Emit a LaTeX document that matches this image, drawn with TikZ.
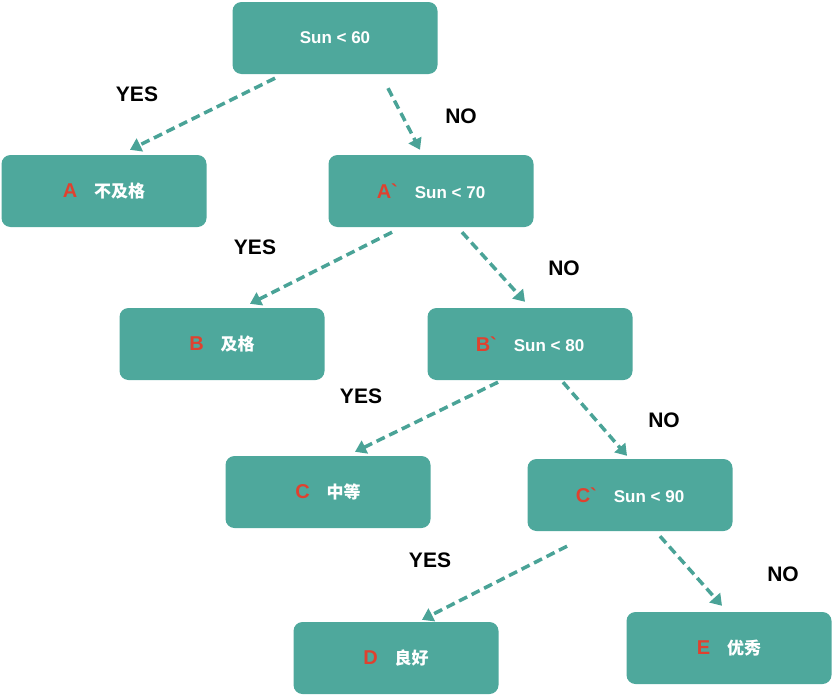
\documentclass[tikz,border=0pt]{standalone}
\usepackage{fontspec}
\setmainfont{Liberation Sans}
\newfontfamily\cjk{Noto Sans CJK SC}
\usetikzlibrary{calc, arrows.meta}
\definecolor{boxteal}{HTML}{4EA89C}
\definecolor{lineteal}{HTML}{4AA397}
\definecolor{lettred}{HTML}{E0412F}
\newcommand{\lett}[1]{\textcolor{lettred}{\fontsize{20}{22}\selectfont #1}}
\newcommand{\tick}{\textasciigrave}

\begin{document}
\begin{tikzpicture}[x=1pt, y=-1pt,
    box/.style=
    {fill=boxteal, rounded corners=9pt, minimum width=205pt, minimum height=72pt,
     text=white, font=\bfseries\fontsize{17}{20}\selectfont},
    branch/.style=
    {draw=lineteal, line width=3.5pt, dash pattern=on 9pt off 5pt,
     -{Triangle[length=11pt,width=14pt]}},
    answer/.style=
    {font=\bfseries\fontsize{21}{24}\selectfont}]
    \useasboundingbox (0,0) rectangle (833,696);
    \node (root) [box] at (335,38) {Sun < 60};
    \node (a) [box] at (104,191) {\lett{A}\quad{\cjk\bfseries 不及格}};
    \node (a2) [box] at (431,191) {\lett{A\tick}\quad Sun < 70};
    \node (b) [box] at (222,344) {\lett{B}\quad{\cjk\bfseries 及格}};
    \node (b2) [box] at (530,344) {\lett{B\tick}\quad Sun < 80};
    \node (c) [box] at (328,492) {\lett{C}\quad{\cjk\bfseries 中等}};
    \node (c2) [box] at (630,495) {\lett{C\tick}\quad Sun < 90};
    \node (d) [box] at (396,658) {\lett{D}\quad{\cjk\bfseries 良好}};
    \node (e) [box] at (729,648) {\lett{E}\quad{\cjk\bfseries 优秀}};
    % yes / no branches
    \draw[branch] ($(root.south)+(-60,4)$) -- ($(a.north)+(26,-5)$);
    \draw[branch] ($(root.south)+(53,14)$) -- ($(a2.north)+(-11,-5)$);
    \draw[branch] ($(a2.south)+(-39,5)$) -- ($(b.north)+(28,-4)$);
    \draw[branch] ($(a2.south)+(31,5)$) -- ($(b2.north)+(-5,-6)$);
    \draw[branch] ($(b2.south)+(-32,2)$) -- ($(c.north)+(27,-4)$);
    \draw[branch] ($(b2.south)+(33,2)$) -- ($(c2.north)+(-3,-3)$);
    \draw[branch] ($(c2.south)+(-63,15)$) -- ($(d.north)+(26,-2)$);
    \draw[branch] ($(c2.south)+(30,5)$) -- ($(e.north)+(-7,-6)$);
    \node (y1) [answer] at (137,94) {YES};
    \node (n1) [answer] at (461,116) {NO};
    \node (y2) [answer] at (255,247) {YES};
    \node (n2) [answer] at (564,268) {NO};
    \node (y3) [answer] at (361,396) {YES};
    \node (n3) [answer] at (664,420) {NO};
    \node (y4) [answer] at (430,560) {YES};
    \node (n4) [answer] at (783,574) {NO};
\end{tikzpicture}
\end{document}
